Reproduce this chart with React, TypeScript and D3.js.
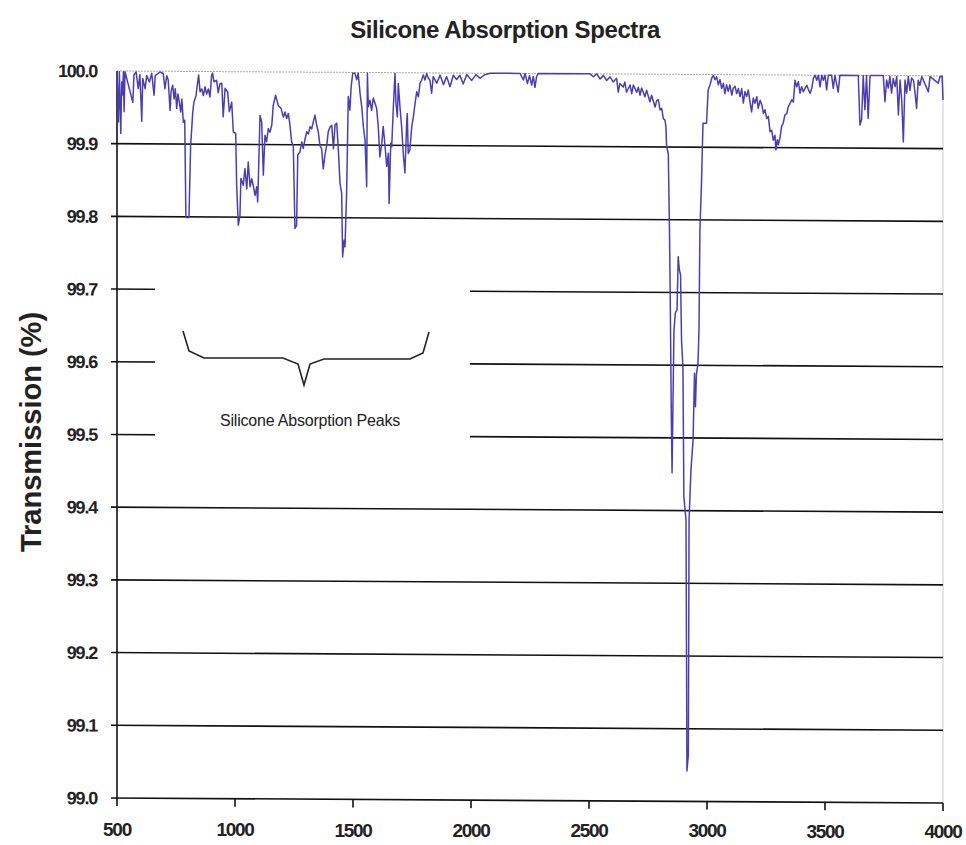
import React from "react";
import * as d3 from "d3";

const title = "Silicone Absorption Spectra";
const yTitle = "Transmission (%)";
const annotationText = "Silicone Absorption Peaks";

const xTicks = [500, 1000, 1500, 2000, 2500, 3000, 3500, 4000];
const yTicks = [99.0, 99.1, 99.2, 99.3, 99.4, 99.5, 99.6, 99.7, 99.8, 99.9, 100.0];

const wavenumber = [
  500, 506, 510, 516, 520, 524, 527, 530, 534, 567, 572, 581, 590, 597, 605, 609, 619, 626, 637, 647,
  657, 662, 682, 696, 703, 711, 717, 725, 729, 736, 742, 747, 753, 758, 764, 770, 775, 781, 787, 792,
  805, 812, 821, 826, 835, 840, 846, 852, 859, 866, 873, 880, 887, 894, 901, 905, 911, 922, 929, 936,
  944, 950, 958, 969, 976, 986, 993, 1003, 1007, 1014, 1021, 1025, 1035, 1042, 1050, 1056, 1064, 1071, 1078, 1085,
  1092, 1096, 1099, 1106, 1113, 1120, 1127, 1134, 1141, 1148, 1156, 1162, 1172, 1183, 1195, 1205, 1212, 1219, 1226, 1233,
  1240, 1247, 1254, 1261, 1266, 1275, 1283, 1289, 1297, 1304, 1311, 1318, 1325, 1332, 1339, 1346, 1353, 1360, 1367, 1374,
  1381, 1389, 1395, 1403, 1410, 1417, 1424, 1431, 1438, 1445, 1452, 1456, 1462, 1466, 1473, 1480, 1487, 1492, 1499, 1508,
  1516, 1522, 1530, 1537, 1544, 1551, 1558, 1561, 1565, 1572, 1579, 1586, 1593, 1600, 1607, 1614, 1622, 1628, 1636, 1643,
  1650, 1653, 1660, 1664, 1671, 1678, 1682, 1688, 1692, 1699, 1706, 1713, 1720, 1728, 1730, 1734, 1741, 1749, 1756, 1763,
  1770, 1777, 1784, 1791, 1798, 1805, 1812, 1819, 1826, 1833, 1840, 1855, 1869, 1883, 1897, 1911, 1925, 1939, 1953, 1967,
  1982, 2003, 2021, 2038, 2059, 2081, 2123, 2208, 2222, 2229, 2239, 2248, 2257, 2264, 2271, 2278, 2285, 2504, 2518, 2533,
  2547, 2561, 2575, 2589, 2603, 2617, 2624, 2631, 2645, 2652, 2659, 2674, 2681, 2688, 2702, 2709, 2716, 2723, 2737, 2744,
  2758, 2765, 2780, 2787, 2794, 2801, 2808, 2815, 2822, 2826, 2829, 2836, 2841, 2844, 2849, 2852, 2856, 2860, 2866, 2873,
  2878, 2883, 2888, 2892, 2898, 2902, 2911, 2915, 2921, 2924, 2932, 2941, 2947, 2951, 2955, 2962, 2966, 2970, 2977, 2983,
  2998, 3005, 3013, 3020, 3027, 3034, 3041, 3048, 3055, 3062, 3069, 3076, 3083, 3090, 3097, 3105, 3111, 3119, 3126, 3133,
  3140, 3147, 3154, 3161, 3168, 3175, 3182, 3189, 3196, 3203, 3211, 3217, 3225, 3232, 3239, 3246, 3253, 3260, 3267, 3274,
  3281, 3288, 3292, 3298, 3302, 3309, 3316, 3323, 3330, 3338, 3344, 3352, 3359, 3366, 3373, 3380, 3387, 3394, 3401, 3408,
  3416, 3423, 3430, 3437, 3444, 3451, 3458, 3465, 3472, 3479, 3486, 3493, 3500, 3507, 3514, 3528, 3535, 3542, 3556, 3563,
  3641, 3648, 3655, 3662, 3669, 3676, 3683, 3691, 3747, 3754, 3761, 3768, 3775, 3782, 3789, 3797, 3804, 3811, 3818, 3825,
  3832, 3839, 3846, 3853, 3860, 3867, 3875, 3881, 3888, 3895, 3902, 3910, 3938, 3945, 3980, 3987, 3996, 4000,
];

const transmission = [
  100.0, 99.93, 99.999, 99.914, 99.985, 99.967, 99.999, 99.944, 99.999, 99.957, 99.995, 99.999, 99.976, 99.995, 99.931, 99.99, 99.976, 99.994, 99.985, 99.997,
  99.967, 99.994, 99.999, 99.997, 99.976, 99.994, 99.988, 99.946, 99.972, 99.981, 99.962, 99.976, 99.949, 99.969, 99.958, 99.944, 99.962, 99.93, 99.933, 99.799,
  99.799, 99.898, 99.944, 99.958, 99.967, 99.981, 99.995, 99.972, 99.976, 99.967, 99.979, 99.969, 99.976, 99.965, 99.995, 99.998, 99.986, 99.988, 99.971, 99.983,
  99.984, 99.938, 99.977, 99.972, 99.945, 99.958, 99.917, 99.915, 99.844, 99.789, 99.802, 99.853, 99.844, 99.867, 99.839, 99.876, 99.842, 99.853, 99.842, 99.83,
  99.842, 99.821, 99.853, 99.94, 99.931, 99.858, 99.913, 99.904, 99.922, 99.917, 99.927, 99.954, 99.968, 99.954, 99.95, 99.938, 99.945, 99.936, 99.943, 99.927,
  99.904, 99.899, 99.785, 99.789, 99.886, 99.89, 99.904, 99.895, 99.908, 99.918, 99.915, 99.925, 99.922, 99.932, 99.941, 99.927, 99.918, 99.899, 99.895, 99.867,
  99.886, 99.9, 99.918, 99.925, 99.927, 99.895, 99.928, 99.93, 99.893, 99.847, 99.834, 99.746, 99.769, 99.76, 99.834, 99.967, 99.948, 99.98, 99.999, 99.999,
  99.99, 99.999, 99.971, 99.953, 99.925, 99.907, 99.843, 99.999, 99.953, 99.962, 99.948, 99.965, 99.958, 99.951, 99.926, 99.884, 99.903, 99.926, 99.898, 99.871,
  99.889, 99.82, 99.903, 99.898, 99.953, 99.999, 99.958, 99.939, 99.985, 99.953, 99.926, 99.889, 99.862, 99.935, 99.944, 99.889, 99.894, 99.926, 99.94, 99.958,
  99.974, 99.967, 99.986, 99.99, 99.997, 99.99, 99.999, 99.993, 99.99, 99.972, 99.995, 99.986, 99.997, 99.984, 99.995, 99.981, 99.997, 99.991, 99.997, 99.985,
  99.998, 99.99, 99.998, 99.993, 99.998, 100.0, 100.0, 100.0, 99.991, 100.0, 99.986, 99.997, 99.984, 99.996, 99.981, 99.996, 100.0, 100.0, 99.996, 100.0,
  99.993, 99.998, 99.991, 99.996, 99.989, 99.994, 99.975, 99.987, 99.982, 99.989, 99.975, 99.985, 99.973, 99.985, 99.975, 99.982, 99.971, 99.981, 99.969, 99.978,
  99.962, 99.971, 99.955, 99.964, 99.965, 99.951, 99.953, 99.939, 99.937, 99.928, 99.9, 99.891, 99.786, 99.699, 99.524, 99.452, 99.552, 99.648, 99.672, 99.676,
  99.749, 99.731, 99.724, 99.635, 99.598, 99.419, 99.387, 99.042, 99.064, 99.387, 99.456, 99.497, 99.589, 99.543, 99.587, 99.603, 99.649, 99.786, 99.855, 99.933,
  99.933, 99.979, 99.986, 99.995, 99.999, 99.993, 99.997, 99.986, 99.993, 99.981, 99.988, 99.974, 99.986, 99.977, 99.986, 99.972, 99.981, 99.984, 99.974, 99.981,
  99.97, 99.981, 99.961, 99.977, 99.97, 99.979, 99.963, 99.949, 99.968, 99.961, 99.97, 99.954, 99.965, 99.959, 99.947, 99.952, 99.94, 99.943, 99.922, 99.924,
  99.91, 99.917, 99.897, 99.911, 99.904, 99.913, 99.929, 99.934, 99.945, 99.947, 99.956, 99.961, 99.966, 99.963, 99.993, 99.984, 99.991, 99.975, 99.984, 99.977,
  99.982, 99.986, 99.98, 99.975, 99.982, 99.996, 100.0, 99.993, 100.0, 99.984, 100.0, 99.993, 100.0, 99.98, 100.0, 100.0, 99.982, 100.0, 99.977, 100.0,
  100.0, 99.932, 99.939, 100.0, 99.953, 100.0, 99.941, 100.0, 100.0, 99.964, 99.994, 99.983, 99.999, 99.976, 99.996, 99.985, 99.999, 99.946, 99.994, 99.967,
  99.909, 99.994, 99.976, 99.999, 99.98, 99.997, 99.994, 99.978, 99.955, 99.994, 99.987, 99.999, 99.978, 99.999, 99.99, 99.999, 100.0, 99.967,
];

const FONT = "Arial, 'Liberation Sans', Helvetica, sans-serif";

export default function App() {
  const width = 966;
  const height = 845;
  const left = 117;
  const right = 943;
  const top = 71;
  const bottom = 798;

  const x = d3.scaleLinear().domain([500, 4000]).range([left, right]);
  const y = d3.scaleLinear().domain([99, 100]).range([bottom, top]);

  const pts = wavenumber.map((w, i) => [w, transmission[i]] as [number, number]);
  const line = d3
    .line<[number, number]>()
    .x((d) => x(d[0]))
    .y((d) => y(d[1]));

  const k = 0.006; // slight scan tilt
  const skew = `matrix(1,${k},0,1,0,${-left * k})`;
  const tilt = (px: number) => (px - left) * k;

  const brace = "M183,331 L189,351 L204,358 L283,358 L298,364 L304,385 L310,364 L324,359 L410,359 L423,353 L429,332";

  return (
    <svg width={width} height={height} style={{ display: "block", position: "absolute", left: 0, top: 0, background: "#fff" }}>
      <rect x={0} y={0} width={width} height={height} fill="#fff" />
      <text x={505} y={38} textAnchor="middle" fontFamily={FONT} fontWeight="bold" fontSize={24} letterSpacing={-0.4} fill="#222">
        {title}
      </text>
      <text
        transform={`translate(41,432) rotate(-90)`}
        textAnchor="middle"
        fontFamily={FONT}
        fontWeight="bold"
        fontSize={29}
        fill="#222"
      >
        {yTitle}
      </text>
      <g transform={skew}>
        <line x1={left} x2={right} y1={y(100)} y2={y(100)} stroke="#aaa" strokeWidth={1} strokeDasharray="2,1" />
        <line x1={right} x2={right} y1={top} y2={bottom} stroke="#ccc" strokeWidth={1} />
        {yTicks.filter((t) => t < 100).map((t) => (
          <line key={t} x1={left - 6} x2={right} y1={y(t)} y2={y(t)} stroke="#111" strokeWidth={1.6} />
        ))}
        <line x1={left} x2={left} y1={top} y2={bottom} stroke="#111" strokeWidth={1.6} />
        {xTicks.map((t) => (
          <line key={t} x1={x(t)} x2={x(t)} y1={bottom} y2={bottom + 8} stroke="#111" strokeWidth={1.6} />
        ))}
        {yTicks.map((t) => (
          <text
            key={t}
            x={97}
            y={y(t)}
            dy="0.36em"
            textAnchor="end"
            fontFamily={FONT}
            fontWeight="bold"
            fontSize={18}
            letterSpacing={-1.2}
            fill="#222"
          >
            {t.toFixed(1)}
          </text>
        ))}
        <path d={line(pts) || ""} fill="none" stroke="#4b3fb0" strokeWidth={1.5} strokeLinejoin="round" />
      </g>
      {xTicks.map((t) => (
        <text
          key={t}
          x={x(t)}
          y={836 + tilt(x(t)) * 0.4}
          textAnchor="middle"
          fontFamily={FONT}
          fontWeight="bold"
          fontSize={19}
          letterSpacing={-1.3}
          fill="#222"
        >
          {t}
        </text>
      ))}
      <rect x={155} y={278} width={315} height={170} fill="#fff" />
      <path d={brace} fill="none" stroke="#222" strokeWidth={1.6} />
      <text x={310} y={426} textAnchor="middle" fontFamily={FONT} fontSize={16} letterSpacing={-0.2} fill="#222">
        {annotationText}
      </text>
    </svg>
  );
}
